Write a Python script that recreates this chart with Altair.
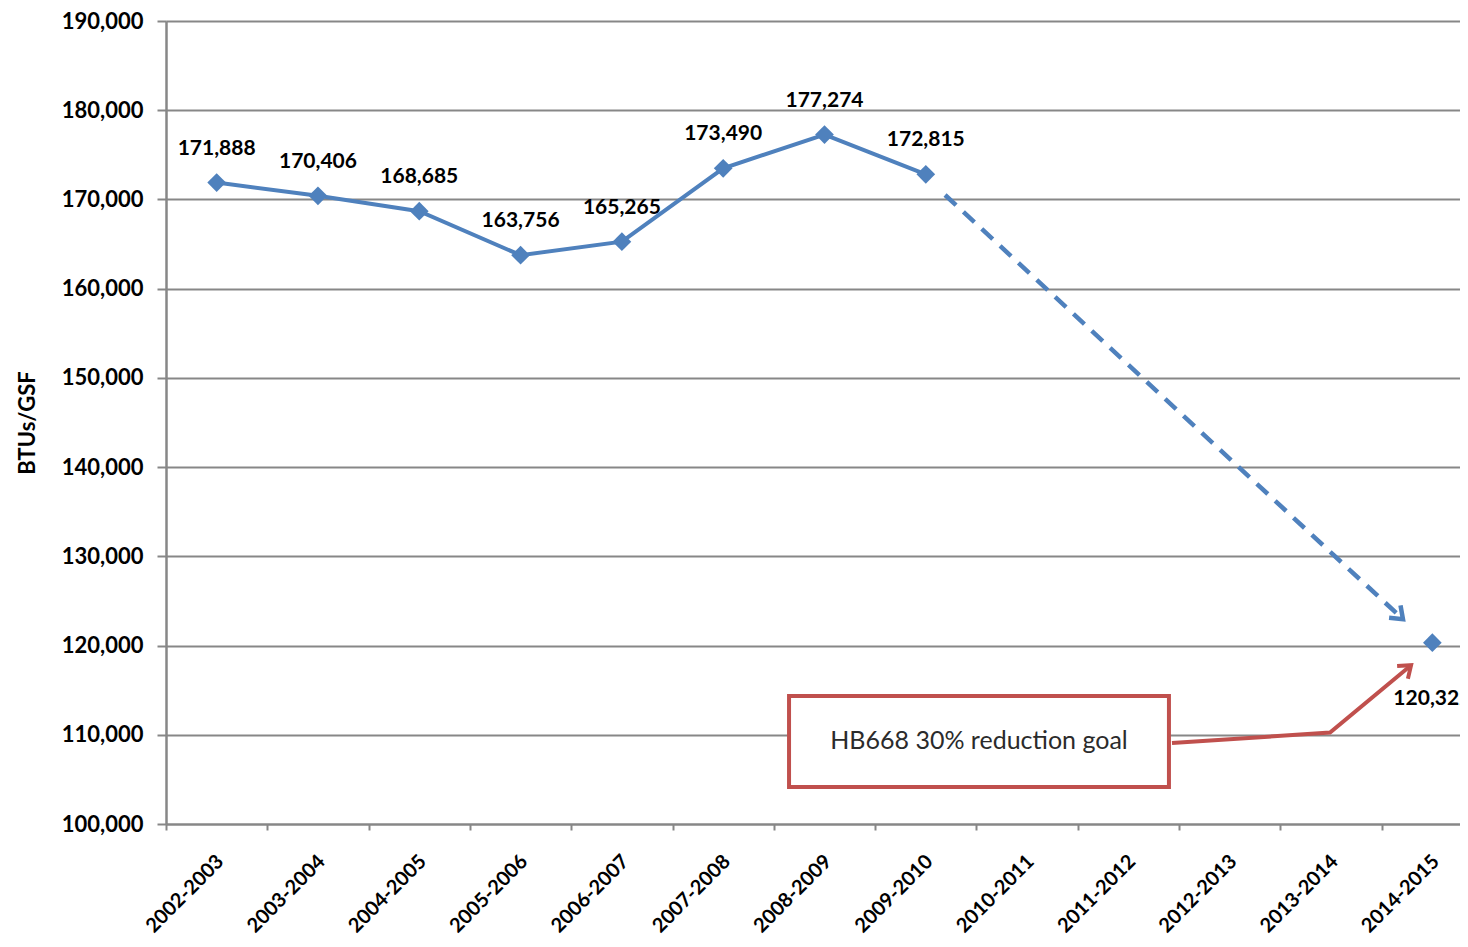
import altair as alt
import pandas as pd

categories = ["2002-2003", "2003-2004", "2004-2005", "2005-2006", "2006-2007",
              "2007-2008", "2008-2009", "2009-2010", "2010-2011", "2011-2012",
              "2012-2013", "2013-2014", "2014-2015"]
actual_cats = categories[:8]
actual_vals = [171888, 170406, 168685, 163756, 165265, 173490, 177274, 172815]
goal_cat = "2014-2015"
goal_val = 120322
y_ticks = list(range(100000, 190001, 10000))

# annotation geometry (x in category-index units, y in BTUs/GSF)
trend_x = [7.69, 12.21]
trend_y = [170500, 122950]
goal_arrow_x = [9.93, 11.49, 12.29]
goal_arrow_y = [109080, 110250, 117800]
box_x = [6.15, 9.90]
box_y = [104150, 114350]
box_text = "HB668 30% reduction goal"

BLUE = "#4F81BD"
RED = "#C0504D"
GRID = "#878787"
FONT = "Lato"

actual = pd.DataFrame({
    "x": [categories.index(c) + 0.5 for c in actual_cats],
    "v": actual_vals,
})
goal = pd.DataFrame({"x": [categories.index(goal_cat) + 0.5], "v": [goal_val]})
trend = pd.DataFrame({"x": trend_x, "v": trend_y})
goal_arrow = pd.DataFrame({"x": goal_arrow_x, "v": goal_arrow_y, "o": [0, 1, 2]})
box = pd.DataFrame({"x": [box_x[0]], "x2": [box_x[1]], "v": [box_y[0]], "v2": [box_y[1]],
                    "tx": [(box_x[0] + box_x[1]) / 2], "tv": [(box_y[0] + box_y[1]) / 2],
                    "t": [box_text]})
trend_head = pd.DataFrame({"x": [trend_x[-1]], "v": [trend_y[-1]]})
goal_head = pd.DataFrame({"x": [goal_arrow_x[-1]], "v": [goal_arrow_y[-1]]})

label_js = "[" + ",".join('"%s"' % c for c in categories) + "]"

xscale = alt.Scale(domain=[0, 13], range=[0, 1317], zero=False, nice=False)
yscale = alt.Scale(domain=[100000, 190000], zero=False, nice=False)

x_axis = alt.Axis(
    values=list(range(13)), labelExpr=label_js + "[datum.value]",
    labelOffset=47, labelAngle=-45, labelAlign="right", labelBaseline="top",
    labelFont=FONT, labelFontWeight="bold", labelFontSize=20, labelColor="black",
    labelPadding=21, tickSize=6, tickWidth=2, tickColor=GRID,
    domainColor=GRID, domainWidth=2, grid=False, title=None, labelOverlap=False,
)
y_axis = alt.Axis(
    values=y_ticks, labelExpr="format(datum.value, ',')", labelFont=FONT,
    labelFontWeight="bold", labelFontSize=22, labelColor="black", labelPadding=14,
    tickSize=9, tickWidth=2, tickColor=GRID, domainColor=GRID, domainWidth=2.5,
    gridColor=GRID, gridWidth=2, title="BTUs/GSF", titleFont=FONT,
    titleFontSize=22, titleFontWeight="bold", titleColor="black", titlePadding=22,
)

X = alt.X("x:Q", scale=xscale, axis=x_axis)
Y = alt.Y("v:Q", scale=yscale, axis=y_axis)

base_line = alt.Chart(actual).mark_line(color=BLUE, strokeWidth=4).encode(x=X, y=Y)
pts = alt.Chart(actual).mark_point(shape="diamond", filled=True, color=BLUE, size=350, opacity=1).encode(x=X, y=Y)
goal_pt = alt.Chart(goal).mark_point(shape="diamond", filled=True, color=BLUE, size=350, opacity=1).encode(x=X, y=Y)

trend_line = alt.Chart(trend).mark_line(color=BLUE, strokeWidth=4.5, strokeDash=[15, 10]).encode(x=X, y=Y)
chevron = "M -1 -0.75 L 0 0 L -1 0.75"
trend_arrow = alt.Chart(trend_head).mark_point(
    shape=chevron, filled=False, color=BLUE, strokeWidth=4.5, size=500, angle=43, opacity=1
).encode(x=X, y=Y)

red_line = alt.Chart(goal_arrow).mark_line(color=RED, strokeWidth=4).encode(x=X, y=Y, order="o:Q")
red_arrow = alt.Chart(goal_head).mark_point(
    shape=chevron, filled=False, color=RED, strokeWidth=4, size=500, angle=320, opacity=1
).encode(x=X, y=Y)

box_rect = alt.Chart(box).mark_rect(fill="white", stroke=RED, strokeWidth=4).encode(
    x=X, x2="x2:Q", y=Y, y2="v2:Q")
box_label = alt.Chart(box).mark_text(font=FONT, fontSize=25, color="#2b2b2b").encode(
    x=alt.X("tx:Q", scale=xscale, axis=x_axis), y=alt.Y("tv:Q", scale=yscale, axis=y_axis), text="t:N")

lbl_actual = alt.Chart(actual).mark_text(
    font=FONT, fontWeight="bold", fontSize=21, color="black", dy=-34
).encode(x=X, y=Y, text=alt.Text("v:Q", format=","))
lbl_goal = alt.Chart(goal).mark_text(
    font=FONT, fontWeight="bold", fontSize=21, color="black", dy=56
).encode(x=X, y=Y, text=alt.Text("v:Q", format=","))

chart = alt.layer(
    base_line, trend_line, trend_arrow, red_line, red_arrow, pts, goal_pt,
    box_rect, box_label, lbl_actual, lbl_goal
).properties(
    width=1294, height=803,
    autosize=alt.AutoSizeParams(type="none"),
    padding={"left": 158, "top": 13, "right": 0, "bottom": 115},
).configure_view(stroke=None).configure(background="white")

chart.save("out.html", embed_options={"renderer": "svg", "actions": False})
